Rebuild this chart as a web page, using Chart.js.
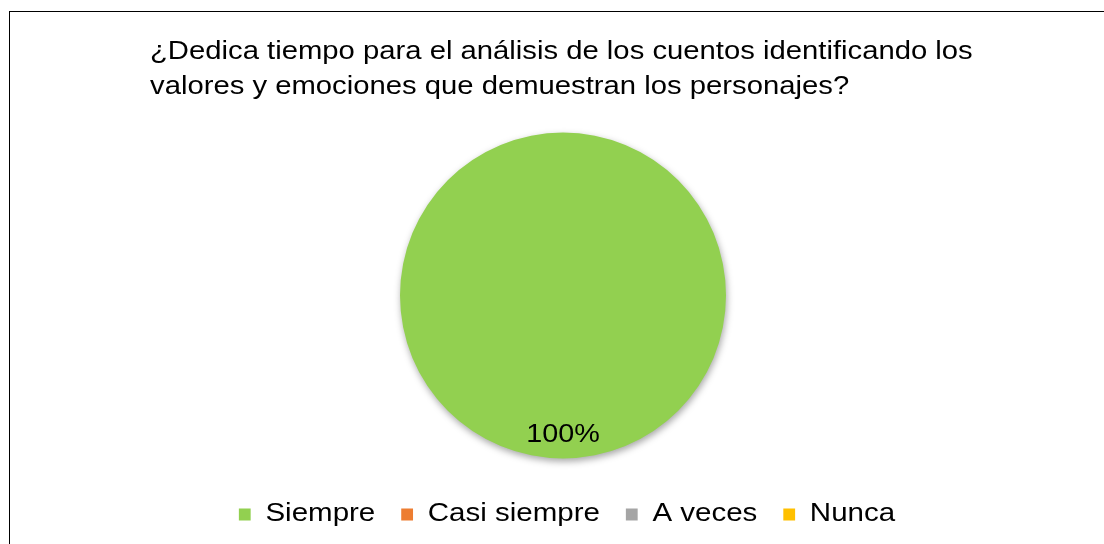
<!DOCTYPE html>
<html>
<head>
<meta charset="utf-8">
<script src="https://cdn.jsdelivr.net/npm/chart.js@4.4.1/dist/chart.umd.min.js"></script>
<style>
  html, body { margin: 0; padding: 0; background: #fff; overflow: hidden; }
  #wrap { position: relative; width: 1104px; height: 544px; }
  #frame { position: absolute; left: 9px; top: 11px; width: 1200px; height: 600px; border: 1px solid #000; box-sizing: border-box; pointer-events: none; }
  canvas { position: absolute; left: 0; top: 0; }
</style>
</head>
<body>
<div id="wrap">
  <div id="frame"></div>
  <canvas id="c" width="1104" height="544"></canvas>
</div>
<script>
const titleLines = [
  "¿Dedica tiempo para el análisis de los cuentos identificando los",
  "valores y emociones que demuestran los personajes?"
];
const categories = ["Siempre", "Casi siempre", "A veces", "Nunca"];
const values = [100, 0, 0, 0];
const percentLabels = ["100%", "", "", ""];
const colors = ["#92D050", "#ED7D31", "#A5A5A5", "#FFC000"];

const FONT = "'Liberation Sans', Arial, sans-serif";
const STRETCH_TITLE = 1.17;
const STRETCH_LEGEND = 1.18;
const STRETCH_LABEL = 1.15;

const titlePlugin = {
  id: 'leftTitle',
  afterDraw(chart) {
    const ctx = chart.ctx;
    ctx.save();
    ctx.fillStyle = '#000';
    ctx.font = "25px " + FONT;
    ctx.textAlign = 'left';
    ctx.textBaseline = 'alphabetic';
    ctx.translate(150, 0);
    ctx.scale(STRETCH_TITLE, 1);
    ctx.fillText(titleLines[0], 0, 59);
    ctx.fillText(titleLines[1], 0, 94);
    ctx.restore();
  }
};

const shadowPlugin = {
  id: 'pieShadow',
  beforeDatasetsDraw(chart) {
    const ctx = chart.ctx;
    ctx.save();
    ctx.shadowColor = 'rgba(0,0,0,0.35)';
    ctx.shadowBlur = 7;
    ctx.shadowOffsetX = 1;
    ctx.shadowOffsetY = 3;
  },
  afterDatasetsDraw(chart) {
    chart.ctx.restore();
  }
};

const labelPlugin = {
  id: 'pctLabels',
  afterDatasetsDraw(chart) {
    const ctx = chart.ctx;
    const meta = chart.getDatasetMeta(0);
    meta.data.forEach((arc, i) => {
      if (!percentLabels[i]) return;
      const p = arc.getProps(['x', 'y', 'startAngle', 'endAngle', 'outerRadius'], true);
      const mid = (p.startAngle + p.endAngle) / 2;
      const r = p.outerRadius * 0.855;
      const lx = p.x + Math.cos(mid) * r;
      const ly = p.y + Math.sin(mid) * r;
      ctx.save();
      ctx.fillStyle = '#000';
      ctx.font = "25px " + FONT;
      ctx.textAlign = 'center';
      ctx.textBaseline = 'middle';
      ctx.translate(lx, ly);
      ctx.scale(STRETCH_LABEL, 1);
      ctx.fillText(percentLabels[i], 0, 0);
      ctx.restore();
    });
  }
};

const legendStretch = {
  id: 'legendStretch',
  afterInit(chart) {
    const lg = chart.legend;
    if (!lg || lg._stretched) return;
    const orig = lg.draw.bind(lg);
    lg.draw = function () {
      const ctx = chart.ctx;
      const c = (lg.left + lg.right) / 2;
      ctx.save();
      ctx.translate(567, 0);
      ctx.scale(STRETCH_LEGEND, 1);
      ctx.translate(-c, 0);
      orig();
      ctx.restore();
    };
    lg._stretched = true;
  }
};

new Chart(document.getElementById('c'), {
  type: 'pie',
  data: {
    labels: categories,
    datasets: [{
      data: values,
      backgroundColor: colors,
      borderWidth: 0,
      radius: 163
    }]
  },
  options: {
    responsive: false,
    animation: false,
    layout: { padding: { top: 111, bottom: 7, left: 22, right: 0 } },
    plugins: {
      title: { display: false },
      tooltip: { enabled: false },
      legend: {
        position: 'bottom',
        labels: {
          color: '#000',
          font: { family: FONT, size: 25 },
          boxWidth: 10,
          boxHeight: 12,
          padding: 22
        }
      }
    }
  },
  plugins: [titlePlugin, shadowPlugin, labelPlugin, legendStretch]
});
</script>
</body>
</html>
